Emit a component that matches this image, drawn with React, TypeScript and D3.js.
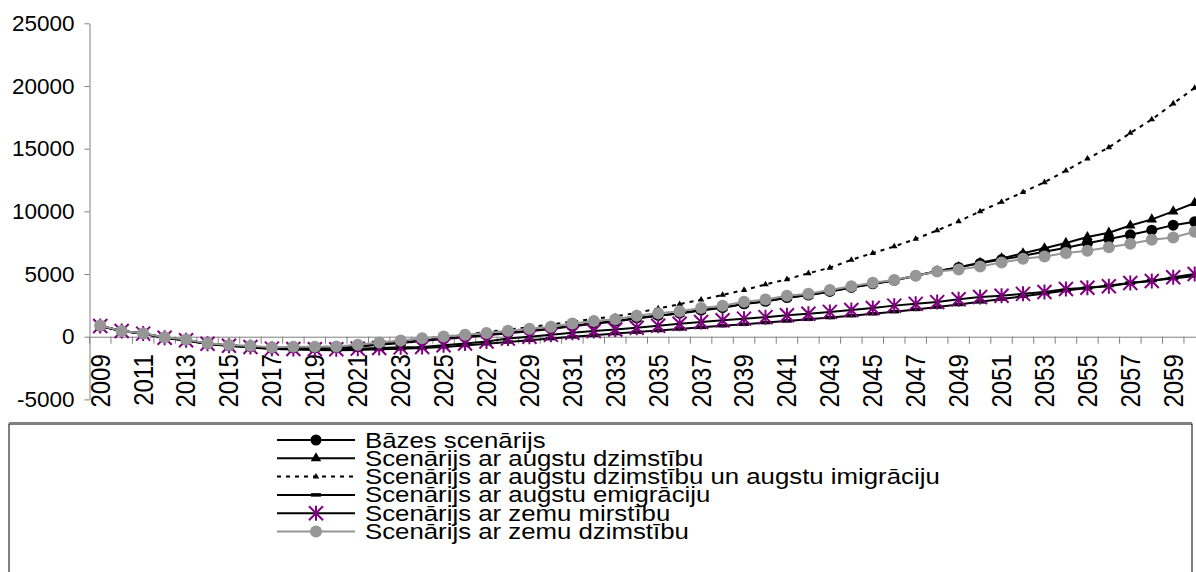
import React, { useEffect, useRef } from "react";
import * as d3 from "d3";

const years = d3.range(2009, 2061);
const yTicks = [-5000, 0, 5000, 10000, 15000, 20000, 25000];

const bazes = [850, 450, 250, -60, -260, -550, -700, -780, -900, -880, -880, -850, -760, -620, -460, -300, -150, 0, 150, 320, 480, 650, 880, 1080, 1250, 1500, 1700, 1880, 2130, 2330, 2620, 2830, 3120, 3320, 3610, 3930, 4220, 4500, 4870, 5220, 5530, 5850, 6150, 6450, 6780, 7100, 7450, 7800, 8130, 8500, 8900, 9170];
const augstaDzimstiba = [850, 450, 250, -60, -260, -550, -700, -790, -910, -900, -900, -870, -790, -650, -500, -340, -190, -40, 110, 280, 440, 610, 840, 1040, 1210, 1460, 1670, 1850, 2100, 2300, 2600, 2810, 3100, 3300, 3600, 3920, 4210, 4490, 4860, 5220, 5550, 5900, 6250, 6650, 7050, 7480, 7950, 8300, 8870, 9360, 10000, 10670];
const augstaDzimImigr = [850, 450, 250, -60, -260, -540, -680, -760, -870, -850, -830, -780, -680, -520, -350, -170, 0, 180, 370, 560, 770, 990, 1200, 1420, 1620, 1900, 2250, 2600, 2950, 3330, 3720, 4170, 4580, 5060, 5500, 6130, 6670, 7200, 7800, 8480, 9200, 10000, 10750, 11530, 12320, 13250, 14200, 15100, 16250, 17330, 18600, 19850];
const augstaEmigr = [850, 450, 230, -100, -300, -580, -750, -850, -980, -1020, -1060, -1080, -1060, -1000, -960, -900, -820, -700, -560, -420, -280, -150, -10, 120, 250, 370, 500, 620, 750, 880, 1000, 1130, 1260, 1400, 1530, 1680, 1830, 2000, 2180, 2370, 2570, 2780, 3000, 3220, 3450, 3680, 3880, 4080, 4280, 4480, 4650, 4850];
const zemaMirstiba = [850, 450, 250, -80, -280, -560, -720, -820, -950, -980, -1000, -1000, -950, -900, -850, -820, -680, -540, -380, -150, 0, 150, 320, 450, 580, 720, 880, 1040, 1180, 1310, 1440, 1560, 1710, 1830, 1980, 2130, 2290, 2480, 2620, 2760, 2990, 3170, 3270, 3420, 3570, 3800, 3900, 4030, 4290, 4450, 4740, 5000];
const zemaDzimstiba = [900, 460, 270, -50, -220, -530, -660, -730, -850, -800, -800, -780, -640, -460, -300, -130, 20, 160, 300, 480, 630, 800, 1060, 1250, 1400, 1670, 1870, 2030, 2290, 2470, 2780, 2970, 3260, 3430, 3720, 4030, 4300, 4520, 4870, 5200, 5370, 5600, 5920, 6210, 6400, 6680, 6860, 7130, 7420, 7730, 7920, 8370];

const seriesNames = [
  "Bāzes scenārijs",
  "Scenārijs ar augstu dzimstību",
  "Scenārijs ar augstu dzimstību un augstu imigrāciju",
  "Scenārijs ar augstu emigrāciju",
  "Scenārijs ar zemu mirstību",
  "Scenārijs ar zemu dzimstību",
];

type Marker = "circle" | "triangle" | "smallTriangle" | "dash" | "star" | "grayCircle";
const series: { name: string; values: number[]; color: string; dash: string | null; marker: Marker }[] = [
  { name: seriesNames[0], values: bazes, color: "#000", dash: null, marker: "circle" },
  { name: seriesNames[1], values: augstaDzimstiba, color: "#000", dash: null, marker: "triangle" },
  { name: seriesNames[2], values: augstaDzimImigr, color: "#000", dash: "4,5", marker: "smallTriangle" },
  { name: seriesNames[3], values: augstaEmigr, color: "#000", dash: null, marker: "dash" },
  { name: seriesNames[4], values: zemaMirstiba, color: "#000", dash: null, marker: "star" },
  { name: seriesNames[5], values: zemaDzimstiba, color: "#969696", dash: null, marker: "grayCircle" },
];

const FONT = "'Liberation Sans', Arial, sans-serif";

function drawMarker(g: d3.Selection<SVGGElement, any, any, any>, kind: Marker) {
  if (kind === "circle") {
    g.append("circle").attr("r", 5.5).attr("fill", "#000");
  } else if (kind === "grayCircle") {
    g.append("circle").attr("r", 6).attr("fill", "#969696");
  } else if (kind === "triangle") {
    g.append("path").attr("d", d3.symbol(d3.symbolTriangle, 48)()).attr("fill", "#000");
  } else if (kind === "smallTriangle") {
    g.append("path").attr("d", d3.symbol(d3.symbolTriangle, 18)()).attr("fill", "#000");
  } else if (kind === "dash") {
    g.append("rect").attr("x", -5).attr("y", -1.75).attr("width", 10).attr("height", 3.5).attr("fill", "#000");
  } else {
    g.append("path")
      .attr("d", "M-7,-7L7,7M-7,7L7,-7M0,-7.5L0,7.5")
      .attr("stroke", "#800080")
      .attr("stroke-width", 2)
      .attr("fill", "none");
  }
}

const App = () => {
  const ref = useRef<SVGSVGElement>(null);

  useEffect(() => {
    const svg = d3.select(ref.current);
    svg.selectAll("*").remove();

    const left = 89.5;
    const step = 21.46;
    const x = d3.scaleBand<number>().domain(years).range([left, left + years.length * step]);
    const y = d3.scaleLinear().domain([-5000, 25000]).range([399.4, 23.3]);
    const cx = (yr: number) => (x(yr) as number) + x.bandwidth() / 2;

    // y axis
    const yAxis = d3.axisLeft(y).tickValues(yTicks).tickSize(5).tickSizeOuter(0).tickPadding(10).tickFormat((d) => String(d));
    const yg = svg.append("g").attr("transform", "translate(" + left + ",0)").call(yAxis);
    yg.select(".domain").attr("stroke", "#808080");
    yg.selectAll(".tick line").attr("stroke", "#808080");
    yg.selectAll("text").attr("font-family", FONT).attr("font-size", 22.5).attr("fill", "#000");

    // x axis on zero line, labels every second year
    const xAxis = d3.axisBottom(x).tickValues(years.filter((d) => d % 2 === 1)).tickSize(0).tickSizeOuter(0);
    const xg = svg.append("g").attr("transform", "translate(0," + y(0) + ")").call(xAxis);
    xg.select(".domain").attr("stroke", "#808080");
    xg.selectAll("text")
      .attr("font-family", FONT)
      .attr("font-size", 24)
      .attr("fill", "#000")
      .attr("y", 0)
      .attr("x", -17.5)
      .attr("dy", "0.35em")
      .attr("transform", "scale(1.12,1) rotate(-90)")
      .style("text-anchor", "end");
    xg.selectAll("line.cat")
      .data(years.concat([2061]))
      .enter()
      .append("line")
      .attr("class", "cat")
      .attr("x1", (d) => left + (d - 2009) * x.step())
      .attr("x2", (d) => left + (d - 2009) * x.step())
      .attr("y1", 0)
      .attr("y2", 7)
      .attr("stroke", "#808080");

    // series, drawn in order so the grey one sits on top
    series.forEach((s) => {
      const line = d3.line<number>().x((_, i) => cx(years[i])).y((v) => y(v));
      svg.append("path")
        .datum(s.values)
        .attr("d", line)
        .attr("fill", "none")
        .attr("stroke", s.color)
        .attr("stroke-width", 2)
        .attr("stroke-dasharray", s.dash);
      svg.append("g")
        .selectAll("g")
        .data(s.values)
        .enter()
        .append("g")
        .attr("transform", (v, i) => "translate(" + cx(years[i]) + "," + y(v) + ")")
        .each(function () {
          drawMarker(d3.select(this as SVGGElement), s.marker);
        });
    });

    // legend
    const lg = svg.append("g");
    lg.append("rect")
      .attr("x", 9)
      .attr("y", 424)
      .attr("width", 1183)
      .attr("height", 160)
      .attr("fill", "#fff")
      .attr("stroke", "#000")
      .attr("stroke-width", 1);
    lg.append("line").attr("x1", 9).attr("x2", 1192).attr("y1", 423).attr("y2", 423).attr("stroke", "#808080").attr("stroke-width", 2);
    series.forEach((s, i) => {
      const ly = 440 + i * 18.3;
      const row = lg.append("g");
      row.append("line")
        .attr("x1", 277)
        .attr("x2", 355)
        .attr("y1", ly)
        .attr("y2", ly)
        .attr("stroke", s.color)
        .attr("stroke-width", 2)
        .attr("stroke-dasharray", s.dash);
      drawMarker(row.append("g").attr("transform", "translate(316," + ly + ")"), s.marker);
      row.append("text")
        .attr("transform", "translate(365," + (ly + 7.5) + ") scale(1.2,1)")
        .attr("font-family", FONT)
        .attr("font-size", 21.5)
        .attr("fill", "#000")
        .text(s.name);
    });
  }, []);

  return <svg ref={ref} width={1196} height={572} style={{ position: "absolute", left: 0, top: 0, background: "#fff" }} />;
};

export default App;
